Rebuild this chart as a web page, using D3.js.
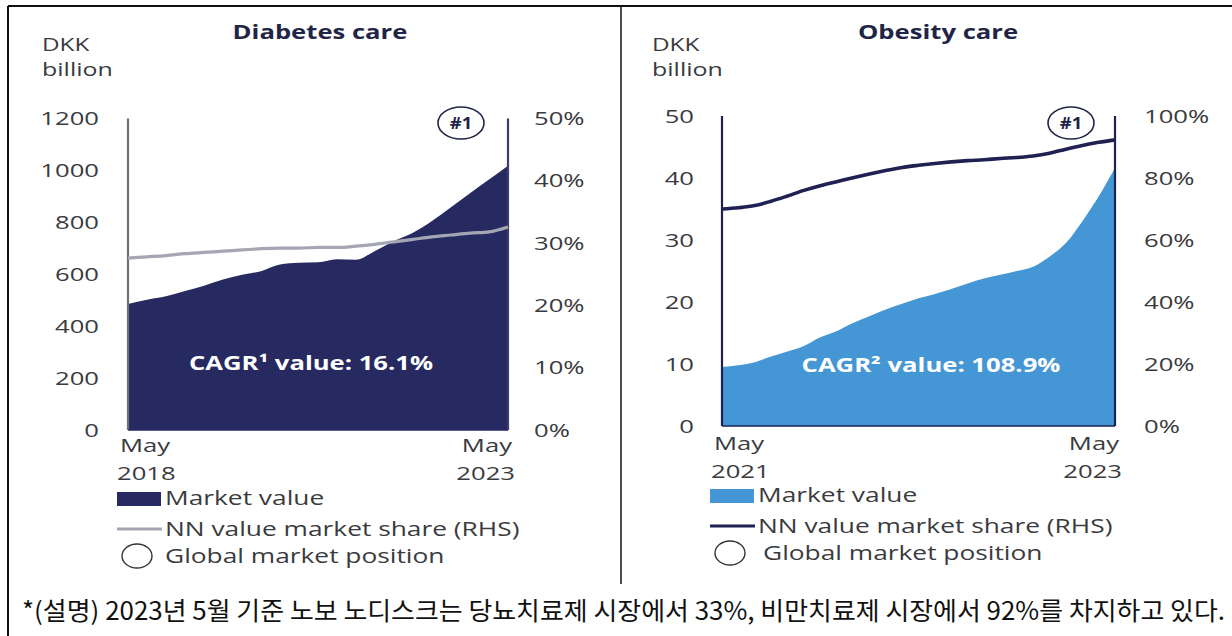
<!DOCTYPE html>
<html>
<head>
<meta charset="utf-8">
<script src="https://cdn.jsdelivr.net/npm/d3@7"></script>
<style>
  body { margin: 0; background: #fff; }
  svg { display: block; }
</style>
</head>
<body>
<svg id="chart" width="1232" height="636"></svg>
<script>
// Diabetes care, May 2018 - May 2023 (months since start)
const diabMonths = [0, 3, 6, 9, 12, 15, 18, 21, 24, 27, 30, 33, 36, 39, 42, 45, 48, 51, 54, 57, 60];
const diabValue  = [485, 502, 515, 535, 556, 580, 598, 612, 638, 644, 646, 658, 656, 690, 728, 760, 805, 858, 912, 965, 1018];
const diabShare  = [27.6, 27.8, 28.0, 28.3, 28.5, 28.7, 28.9, 29.1, 29.2, 29.2, 29.3, 29.3, 29.5, 29.8, 30.2, 30.6, 31.0, 31.3, 31.6, 31.8, 32.6];
const diabLeftTicks  = [0, 200, 400, 600, 800, 1000, 1200];
const diabRightTicks = [0, 10, 20, 30, 40, 50];

// Obesity care, May 2021 - May 2023
const obMonths = [0, 1, 2, 3, 4, 5, 6, 7, 8, 9, 10, 11, 12, 13, 14, 15, 16, 17, 18, 19, 20, 21, 22, 23, 24];
const obValue  = [9.5, 9.8, 10.3, 11.2, 12.0, 12.9, 14.3, 15.3, 16.6, 17.7, 18.8, 19.7, 20.6, 21.3, 22.1, 23.0, 23.8, 24.4, 25.0, 25.7, 27.3, 29.5, 33.0, 37.0, 41.6];
const obShare  = [70.0, 70.4, 71.1, 72.5, 74.2, 76.0, 77.5, 78.8, 80.1, 81.3, 82.4, 83.4, 84.1, 84.7, 85.2, 85.6, 85.9, 86.3, 86.6, 87.1, 88.0, 89.3, 90.5, 91.5, 92.3];
const obLeftTicks  = [0, 10, 20, 30, 40, 50];
const obRightTicks = [0, 20, 40, 60, 80, 100];

const caption = '*(설명) 2023년 5월 기준 노보 노디스크는 당뇨치료제 시장에서 33%, 비만치료제 시장에서 92%를 차지하고 있다.';

const SX = 1.35;               // the source picture is stretched horizontally
const FONT = '"Open Sans", sans-serif';
const TXT = '#3a3b40';
const svg = d3.select('#chart');

function label(g, x, y, s, o = {}) {
  return g.append('text')
    .attr('transform', `translate(${x},${y}) scale(${o.sx || SX},1)`)
    .attr('text-anchor', o.anchor || 'start')
    .attr('font-family', FONT)
    .attr('font-size', o.size || 19)
    .attr('font-weight', o.weight || 400)
    .attr('fill', o.fill || TXT)
    .text(s);
}

// frame
svg.append('line').attr('x1', 8).attr('x2', 1232).attr('y1', 6).attr('y2', 6).attr('stroke', '#111').attr('stroke-width', 2);
svg.append('line').attr('x1', 8).attr('x2', 8).attr('y1', 6).attr('y2', 636).attr('stroke', '#111').attr('stroke-width', 2);
svg.append('line').attr('x1', 621).attr('x2', 621).attr('y1', 6).attr('y2', 584).attr('stroke', '#111').attr('stroke-width', 1.5);

function panel(cfg) {
  const g = svg.append('g');
  const x = d3.scaleLinear().domain(cfg.xDomain).range([cfg.x0, cfg.x1]);
  const yL = d3.scaleLinear().domain(cfg.leftDomain).range([cfg.yBottom, cfg.yTop]);
  const yR = d3.scaleLinear().domain(cfg.rightDomain).range([cfg.yBottom, cfg.yTop]);
  const pts = cfg.months.map((m, i) => ({ m, v: cfg.value[i], s: cfg.share[i] }));

  // title + unit
  label(g, cfg.titleX, 39, cfg.title, { weight: 700, fill: '#1f2547', anchor: 'middle' });
  label(g, cfg.unitX, 51, 'DKK', { size: 18 });
  label(g, cfg.unitX, 76, 'billion', { size: 18.5 });

  // area
  g.append('path').datum(pts)
    .attr('d', d3.area().x(d => x(d.m)).y0(yL(0)).y1(d => yL(d.v)).curve(d3.curveMonotoneX))
    .attr('fill', cfg.areaColor);

  // side lines and base
  [cfg.x0, cfg.x1].forEach((xx, i) => {
    g.append('line').attr('x1', xx).attr('x2', xx).attr('y1', cfg.yTop).attr('y2', cfg.yBottom)
      .attr('stroke', i === 0 ? cfg.leftLineColor : cfg.rightLineColor).attr('stroke-width', 2.2);
  });
  g.append('line').attr('x1', cfg.x0).attr('x2', cfg.x1).attr('y1', cfg.yBottom).attr('y2', cfg.yBottom)
    .attr('stroke', cfg.baseColor).attr('stroke-width', 1.5);

  // share line
  g.append('path').datum(pts)
    .attr('d', d3.line().x(d => x(d.m)).y(d => yR(d.s)).curve(d3.curveMonotoneX))
    .attr('fill', 'none').attr('stroke', cfg.lineColor).attr('stroke-width', cfg.lineWidth);

  // axes
  const la = g.append('g').attr('transform', `translate(${cfg.leftLabelX},0)`)
    .call(d3.axisLeft(yL).tickValues(cfg.leftTicks).tickSize(0).tickPadding(0).tickFormat(d3.format('d')));
  const ra = g.append('g').attr('transform', `translate(${cfg.rightLabelX},0)`)
    .call(d3.axisRight(yR).tickValues(cfg.rightTicks).tickSize(0).tickPadding(0).tickFormat(d => d + '%'));
  [la, ra].forEach(a => {
    a.select('.domain').remove();
    a.selectAll('text').attr('font-family', FONT).attr('font-size', 19).attr('fill', TXT)
      .attr('transform', `scale(${SX},1)`);
  });

  // x labels
  label(g, cfg.x0 - 8, cfg.xLabY, 'May');
  label(g, cfg.x0 - 11, cfg.xLabY + 28, cfg.startYear);
  label(g, cfg.x1 + 4, cfg.xLabY, 'May', { anchor: 'end' });
  label(g, cfg.x1 + 7, cfg.xLabY + 28, cfg.endYear, { anchor: 'end' });

  // CAGR
  label(g, cfg.cagrX, cfg.cagrY, cfg.cagr, { weight: 700, fill: '#fff', size: 19, anchor: 'middle' });

  // #1 badge
  g.append('ellipse').attr('cx', cfg.badgeX).attr('cy', 123).attr('rx', 23).attr('ry', 16)
    .attr('fill', '#fff').attr('stroke', '#1f2547').attr('stroke-width', 1.6);
  label(g, cfg.badgeX, 129, '#1', { weight: 700, size: 16, fill: '#1f2547', anchor: 'middle', sx: 1.15 });

  // legend
  const lx = cfg.legendX;
  g.append('rect').attr('x', lx).attr('y', cfg.legY).attr('width', 44).attr('height', 14).attr('fill', cfg.areaColor);
  label(g, lx + 48, cfg.legY + 13, 'Market value', { size: 19.5 });
  g.append('line').attr('x1', lx).attr('x2', lx + 45).attr('y1', cfg.legY + 37).attr('y2', cfg.legY + 37)
    .attr('stroke', cfg.lineColor).attr('stroke-width', 3);
  label(g, lx + 48, cfg.legY + 44, 'NN value market share (RHS)', { size: 19.5 });
  g.append('ellipse').attr('cx', lx + 20).attr('cy', cfg.legY + 64).attr('rx', 15).attr('ry', 12)
    .attr('fill', 'none').attr('stroke', '#333').attr('stroke-width', 1.4);
  label(g, lx + cfg.globalDx, cfg.legY + 71, 'Global market position', { size: 19.5 });
}

panel({
  title: 'Diabetes care', titleX: 320, unitX: 42,
  xDomain: [0, 60], x0: 128, x1: 508, yTop: 118.5, yBottom: 430,
  leftDomain: [0, 1200], rightDomain: [0, 50],
  months: diabMonths, value: diabValue, share: diabShare,
  leftTicks: diabLeftTicks, rightTicks: diabRightTicks,
  leftLabelX: 99, rightLabelX: 534,
  areaColor: '#262a61', lineColor: '#a4a6b3', lineWidth: 3.2,
  leftLineColor: '#6d6f7a', rightLineColor: '#3b3e66', baseColor: '#262a61',
  xLabY: 452, startYear: '2018', endYear: '2023',
  cagr: 'CAGR¹ value: 16.1%', cagrX: 311, cagrY: 370,
  badgeX: 461, legendX: 117, legY: 492, globalDx: 48
});

panel({
  title: 'Obesity care', titleX: 938, unitX: 652,
  xDomain: [0, 24], x0: 722, x1: 1115, yTop: 116, yBottom: 426,
  leftDomain: [0, 50], rightDomain: [0, 100],
  months: obMonths, value: obValue, share: obShare,
  leftTicks: obLeftTicks, rightTicks: obRightTicks,
  leftLabelX: 694, rightLabelX: 1144,
  areaColor: '#4596d5', lineColor: '#1e2152', lineWidth: 3.6,
  leftLineColor: '#1e2152', rightLineColor: '#1e2152', baseColor: '#1e2152',
  xLabY: 450, startYear: '2021', endYear: '2023',
  cagr: 'CAGR² value: 108.9%', cagrX: 931, cagrY: 372,
  badgeX: 1071, legendX: 710, legY: 489, globalDx: 53
});

// caption
svg.append('text')
  .attr('x', 22).attr('y', 620)
  .attr('font-family', '"Noto Sans CJK KR", sans-serif')
  .attr('font-size', 25)
  .attr('fill', '#111')
  .attr('textLength', 1203).attr('lengthAdjust', 'spacingAndGlyphs')
  .text(caption);
</script>
</body>
</html>
